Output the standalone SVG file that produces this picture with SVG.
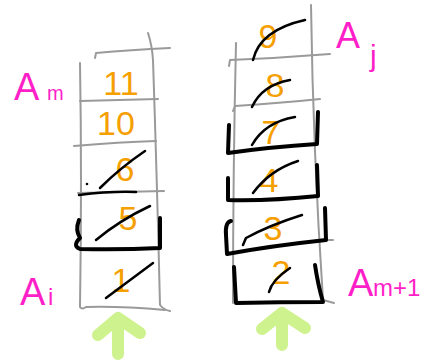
<svg xmlns="http://www.w3.org/2000/svg" width="430" height="361" viewBox="0 0 430 361">
<style>
.g{fill:none;stroke:#9a9a9a;stroke-width:2;stroke-linecap:round;stroke-linejoin:round}
.k{fill:none;stroke:#000;stroke-width:4;stroke-linecap:round;stroke-linejoin:round}
.s{fill:none;stroke:#000;stroke-width:2.5;stroke-linecap:round}
.n{font-family:"Liberation Sans",Arial,sans-serif;font-size:34px;fill:#f5a000;text-anchor:middle}
.l{font-family:"Liberation Sans",Arial,sans-serif;fill:#ff1fc8}
.ar{fill:none;stroke:#c6f07a;stroke-width:12;stroke-linecap:round;stroke-linejoin:round;opacity:0.85}
</style>
<rect width="430" height="361" fill="#fff"/>
<g id="stack-left">
<path class="g" d="M80 63 Q82 180 80 307 Q82 310 86 307 Q120 306 165 310"/>
<path class="g" d="M148 33 Q152 45 153 60 Q157 180 160 305 Q164 310 170 311"/>
<path class="g" d="M95 58 L96 53 Q130 50 170 48"/>
<path class="g" d="M80 101 L158 99"/>
<path class="g" d="M74 146 Q120 142 156 141"/>
<path class="g" d="M78 193 L164 191"/>
</g>
<g id="cell-11"><text class="n" x="121" y="95">11</text></g>
<g id="cell-10"><text class="n" x="116" y="135">10</text></g>
<g id="cell-6"><text class="n" x="125" y="181">6</text><path class="s" d="M100 188 Q120 168 145 151"/><path class="k" d="M79 195 Q110 191 136 192" style="stroke-width:2.5"/><circle cx="87" cy="184" r="1.3"/></g>
<g id="cell-5"><text class="n" x="128" y="230">5</text><path class="s" d="M96 240 Q120 220 150 206"/><path class="k" d="M79 220 Q75 230 80 238 Q72 246 80 249 Q120 250 160 248 L160 218"/></g>
<g id="cell-1"><text class="n" x="121" y="292">1</text><path class="s" d="M106 298 Q130 280 153 263"/></g>
<g id="label-Am"><text class="l" x="14" y="100" font-size="38">A</text><text class="l" x="47" y="100" font-size="20">m</text></g>
<g id="label-Ai"><text class="l" x="20" y="305" font-size="38">A</text><text class="l" x="48" y="305" font-size="24">i</text></g>
<g id="arrow-left"><path class="ar" d="M118 354 L118 320 M98 335 L118 318 L140 333"/></g>

<g id="stack-right">
<path class="g" d="M236 43 Q233 170 233 303"/>
<path class="g" d="M311 5 Q313 150 323 300 L334 303"/>
<path class="g" d="M229 66 L230 60 Q280 58 330 54"/>
<path class="g" d="M233 111 L235 106 Q280 103 320 99"/>
<path class="g" d="M318 240 L333 240"/>
</g>
<g id="cell-9"><text class="n" x="268" y="48">9</text><path class="s" d="M253 60 Q260 30 305 20"/></g>
<g id="cell-8"><text class="n" x="275" y="97">8</text><path class="s" d="M252 107 Q262 85 290 80"/></g>
<g id="cell-7"><text class="n" x="271" y="144">7</text><path class="s" d="M252 145 Q265 122 295 117"/><path class="k" d="M229 125 L228 153 Q270 147 317 144 L318 112"/></g>
<g id="cell-4"><text class="n" x="269" y="192">4</text><path class="s" d="M253 193 Q270 170 298 161"/><path class="k" d="M228 178 L228 200 Q270 201 318 196 L317 165"/></g>
<g id="cell-3"><text class="n" x="273" y="240">3</text><path class="s" d="M243 245 L246 238 Q270 225 302 215"/><path class="k" d="M231 221 Q225 222 226 235 L227 254 Q270 246 326 240 L325 208"/></g>
<g id="cell-2"><text class="n" x="281" y="284">2</text><path class="s" d="M269 292 Q272 280 290 268"/><path class="k" d="M234 267 L236 303 Q280 302 323 302 Q318 285 315 265"/></g>
<g id="label-Aj"><text class="l" x="336" y="48" font-size="36">A</text><text class="l" x="370" y="66" font-size="30">j</text></g>
<g id="label-Am1"><text class="l" x="348" y="296" font-size="38">A</text><text class="l" x="373" y="296" font-size="24">m+1</text></g>
<g id="arrow-right"><path class="ar" d="M282 345 L282 315 M262 329 L282 313 L305 328"/></g>
</svg>
